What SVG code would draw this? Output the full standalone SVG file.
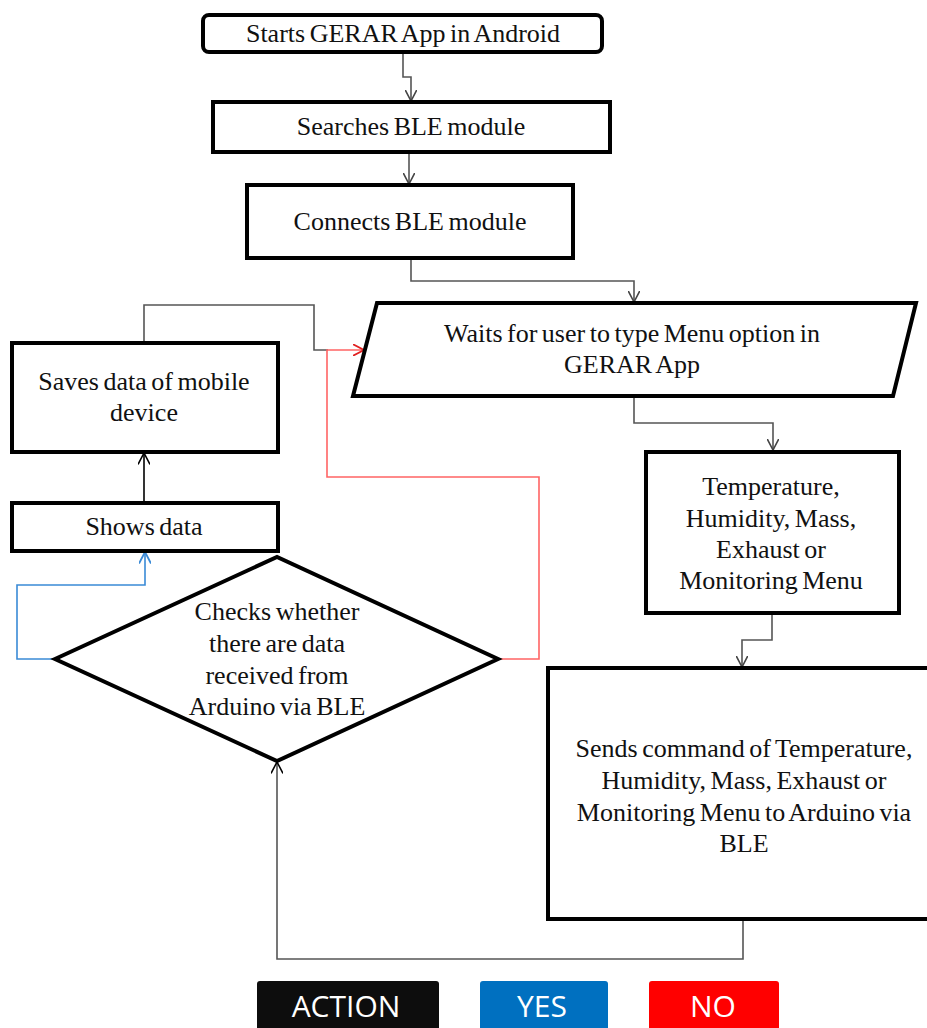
<svg xmlns="http://www.w3.org/2000/svg" width="927" height="1028" viewBox="0 0 927 1028">
<style>
.box{fill:#fff;stroke:#000;stroke-width:4;stroke-linejoin:miter}
.t{font-family:"Times New Roman",Times,"Liberation Serif",serif;font-size:26px;fill:#111;text-anchor:middle;word-spacing:-2px}
.c{fill:none;stroke:#555;stroke-width:1.6}
.lg{font-family:"Open Sans","Liberation Sans",sans-serif;font-size:30px;fill:#fff;text-anchor:middle}
</style>
<defs>
<marker id="ag" viewBox="0 0 12 12" refX="11.5" refY="6" markerWidth="12" markerHeight="12" markerUnits="userSpaceOnUse" orient="auto">
<path d="M0,0 L11.5,6 L0,12" fill="none" stroke="#444" stroke-width="1.6"/>
</marker>
<marker id="ak" viewBox="0 0 12 12" refX="11.5" refY="6" markerWidth="12" markerHeight="12" markerUnits="userSpaceOnUse" orient="auto">
<path d="M0,0 L11.5,6 L0,12" fill="none" stroke="#000" stroke-width="1.6"/>
</marker>
<marker id="ab" viewBox="0 0 12 12" refX="11.5" refY="6" markerWidth="12" markerHeight="12" markerUnits="userSpaceOnUse" orient="auto">
<path d="M0,0 L11.5,6 L0,12" fill="none" stroke="#3a8ad6" stroke-width="1.8"/>
</marker>
<marker id="ar" viewBox="0 0 12 12" refX="11.5" refY="6" markerWidth="12" markerHeight="12" markerUnits="userSpaceOnUse" orient="auto">
<path d="M0,0 L11.5,6 L0,12" fill="none" stroke="#e02020" stroke-width="1.8"/>
</marker>
</defs>
<rect width="927" height="1028" fill="#fff"/>

<g id="connectors">
<path class="c" d="M403,52 V77 H411 V101" marker-end="url(#ag)"/>
<path class="c" d="M409,152 V184" marker-end="url(#ag)"/>
<path class="c" d="M411,258 V281 H634 V302" marker-end="url(#ag)"/>
<path class="c" d="M634,396 V423 H773 V450" marker-end="url(#ag)"/>
<path class="c" d="M772,613 V640 H742 V667" marker-end="url(#ag)"/>
<path class="c" d="M743,919 V959 H277 V762" marker-end="url(#ak)"/>
<path fill="none" stroke="#000" stroke-width="1.6" d="M144,503 V453" marker-end="url(#ak)"/>
<path class="c" d="M144,343 V305 H314 V350 H328"/>
<path fill="none" stroke="#ff6464" stroke-width="1.6" d="M498,659 H539 V477 H327 V350 H364" marker-end="url(#ar)"/>
<path fill="none" stroke="#3a8ad6" stroke-width="1.6" d="M55,659 H17 V585 H145 V552" marker-end="url(#ab)"/>
</g>

<g id="start">
<rect class="box" x="203" y="15" width="399" height="37" rx="6"/>
<text class="t" x="403" y="42">Starts GERAR App in Android</text>
</g>
<g id="search">
<rect class="box" x="213" y="102" width="397" height="50"/>
<text class="t" x="411" y="135">Searches BLE module</text>
</g>
<g id="connect">
<rect class="box" x="247" y="185" width="326" height="73"/>
<text class="t" x="410" y="230">Connects BLE module</text>
</g>
<g id="waits">
<polygon class="box" points="377,303 916,303 893,396 353,396"/>
<text class="t" x="632" y="342">Waits for user to type Menu option in</text>
<text class="t" x="632" y="373">GERAR App</text>
</g>
<g id="menu">
<rect class="box" x="646" y="452" width="253" height="161"/>
<text class="t" x="771" y="495">Temperature,</text>
<text class="t" x="771" y="527">Humidity, Mass,</text>
<text class="t" x="771" y="558">Exhaust or</text>
<text class="t" x="771" y="589">Monitoring Menu</text>
</g>
<g id="sends">
<rect class="box" x="548" y="668" width="420" height="251"/>
<text class="t" x="744" y="757">Sends command of Temperature,</text>
<text class="t" x="744" y="789">Humidity, Mass, Exhaust or</text>
<text class="t" x="744" y="821">Monitoring Menu to Arduino via</text>
<text class="t" x="744" y="852">BLE</text>
</g>
<g id="check">
<polygon class="box" points="55,659 277,557 498,659 277,761"/>
<text class="t" x="277" y="620">Checks whether</text>
<text class="t" x="277" y="652">there are data</text>
<text class="t" x="277" y="684">received from</text>
<text class="t" x="277" y="715">Arduino via BLE</text>
</g>
<g id="shows">
<rect class="box" x="12" y="503" width="266" height="48"/>
<text class="t" x="144" y="535">Shows data</text>
</g>
<g id="saves">
<rect class="box" x="12" y="343" width="266" height="109"/>
<text class="t" x="144" y="390">Saves data of mobile</text>
<text class="t" x="144" y="421">device</text>
</g>

<g id="legend-action">
<rect x="257" y="981" width="182" height="60" rx="3" fill="#0d0d0d"/>
<text class="lg" x="346" y="1017">ACTION</text>
</g>
<g id="legend-yes">
<rect x="480" y="981" width="128" height="60" rx="3" fill="#0070c0"/>
<text class="lg" x="542" y="1017">YES</text>
</g>
<g id="legend-no">
<rect x="649" y="981" width="130" height="60" rx="3" fill="#ff0000"/>
<text class="lg" x="713" y="1017">NO</text>
</g>
</svg>
